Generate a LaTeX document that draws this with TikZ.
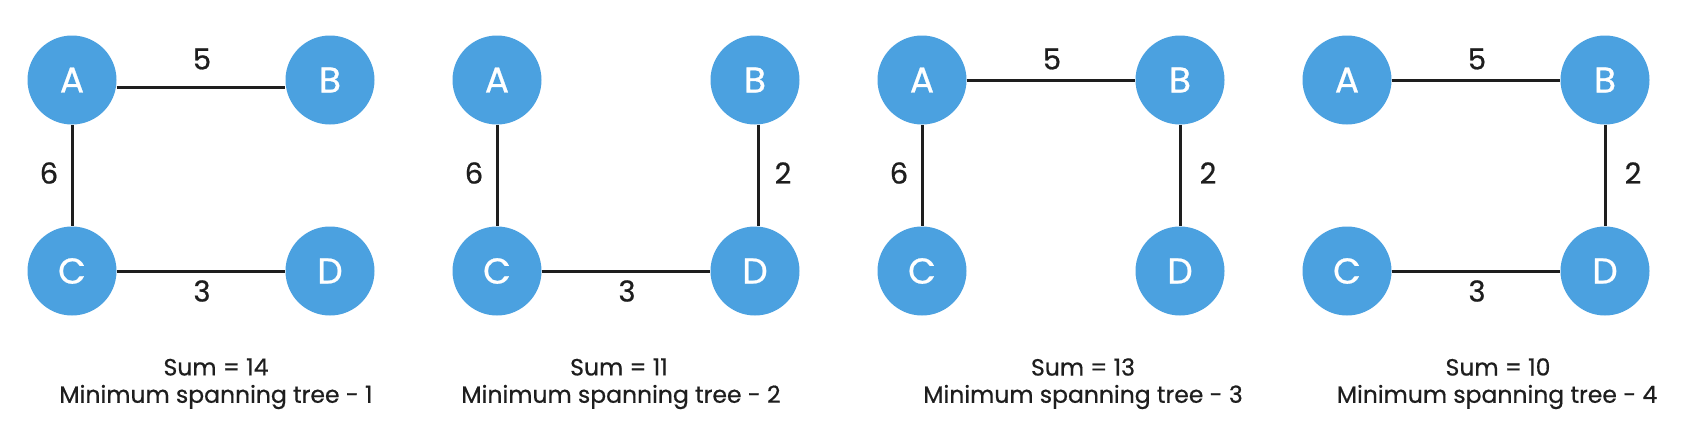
\documentclass[tikz,border=0pt]{standalone}
\usepackage{fontspec}
\setmainfont{Poppins}[FakeBold=0.6]
\definecolor{nodeblue}{HTML}{4BA1E0}
\definecolor{ink}{HTML}{1E1E1E}
\begin{document}
\begin{tikzpicture}[x=1pt,y=-1pt,
  vert/.style={circle,fill=nodeblue,minimum size=89pt,inner sep=0pt,text=white,font=\fontsize{36}{40}\selectfont},
  edge/.style={draw=ink,line width=3pt},
  wlab/.style={text=ink,font=\fontsize{29}{32}\selectfont,inner sep=0pt},
  caption/.style={text=ink,font=\fontsize{23.5}{27}\selectfont,inner sep=0pt}]
\useasboundingbox[fill=white] (0,0) rectangle (1700,426);
% panel 1
\begin{scope}[xshift=0pt]
\node[vert] (A1) at (72,80) {A};
\node[vert] (B1) at (330,80) {B};
\node[vert] (C1) at (72,271) {C};
\node[vert] (D1) at (330,271) {D};
\draw[edge] ([yshift=-7pt]A1.east) -- ([yshift=-7pt]B1.west);
\draw[edge] (A1) -- (C1);
\draw[edge] (C1) -- (D1);
\node[wlab] (w1a) at (202,59) {5};
\node[wlab] (w1b) at (49,173) {6};
\node[wlab] (w1c) at (202,291) {3};
\node[caption] (s1) at (216,367) {Sum = 14};
\node[caption] (m1) at (216,397) {Minimum spanning tree - 1};
\end{scope}
% panel 2
\begin{scope}[xshift=425pt]
\node[vert] (A2) at (72,80) {A};
\node[vert] (B2) at (330,80) {B};
\node[vert] (C2) at (72,271) {C};
\node[vert] (D2) at (330,271) {D};
\draw[edge] (A2) -- (C2);
\draw[edge] ([xshift=3pt]B2.south) -- ([xshift=3pt]D2.north);
\draw[edge] (C2) -- (D2);
\node[wlab] (w2a) at (49,173) {6};
\node[wlab] (w2b) at (358,173) {2};
\node[wlab] (w2c) at (202,291) {3};
\node[caption] (s2) at (194,367) {Sum = 11};
\node[caption] (m2) at (196,397) {Minimum spanning tree - 2};
\end{scope}
% panel 3
\begin{scope}[xshift=850pt]
\node[vert] (A3) at (72,80) {A};
\node[vert] (B3) at (330,80) {B};
\node[vert] (C3) at (72,271) {C};
\node[vert] (D3) at (330,271) {D};
\draw[edge] (A3) -- (B3);
\draw[edge] (A3) -- (C3);
\draw[edge] (B3) -- (D3);
\node[wlab] (w3a) at (202,59) {5};
\node[wlab] (w3b) at (49,173) {6};
\node[wlab] (w3c) at (358,173) {2};
\node[caption] (s3) at (233,367) {Sum = 13};
\node[caption] (m3) at (233,397) {Minimum spanning tree - 3};
\end{scope}
% panel 4
\begin{scope}[xshift=1275pt]
\node[vert] (A4) at (72,80) {A};
\node[vert] (B4) at (330,80) {B};
\node[vert] (C4) at (72,271) {C};
\node[vert] (D4) at (330,271) {D};
\draw[edge] (A4) -- (B4);
\draw[edge] (B4) -- (D4);
\draw[edge] (C4) -- (D4);
\node[wlab] (w4a) at (202,59) {5};
\node[wlab] (w4b) at (358,173) {2};
\node[wlab] (w4c) at (202,291) {3};
\node[caption] (s4) at (223,367) {Sum = 10};
\node[caption] (m4) at (222,397) {Minimum spanning tree - 4};
\end{scope}
\end{tikzpicture}
\end{document}
